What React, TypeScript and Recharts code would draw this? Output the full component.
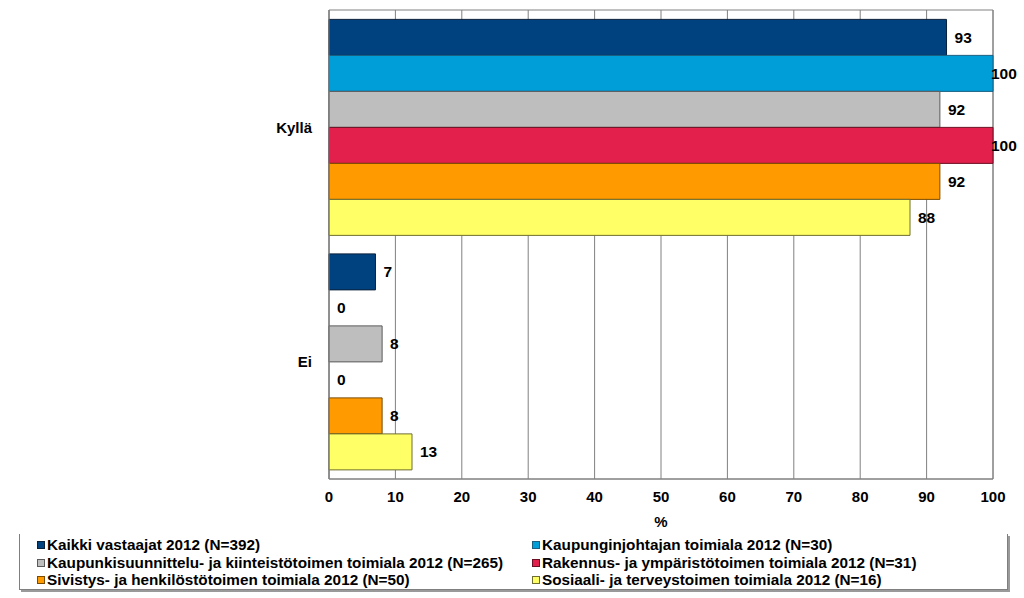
import {
  Bar,
  BarChart,
  CartesianGrid,
  Cell,
  LabelList,
  ReferenceArea,
  XAxis,
  YAxis,
} from "recharts";

const categories = ["Kyllä", "Ei"];

const seriesNames = [
  "Kaikki vastaajat 2012 (N=392)",
  "Kaupunginjohtajan toimiala 2012 (N=30)",
  "Kaupunkisuunnittelu- ja kiinteistötoimen toimiala 2012 (N=265)",
  "Rakennus- ja ympäristötoimen toimiala 2012 (N=31)",
  "Sivistys- ja henkilöstötoimen toimiala 2012 (N=50)",
  "Sosiaali- ja terveystoimen toimiala 2012 (N=16)",
];

// percentages, labels show them rounded
const kaikki = [93, 7];
const kaupunginjohtaja = [100, 0];
const kaupunkisuunnittelu = [92, 8];
const rakennus = [100, 0];
const sivistys = [92, 8];
const sosiaali = [87.5, 12.5];

const xTicks = [0, 10, 20, 30, 40, 50, 60, 70, 80, 90, 100];

// fill + darker outline, in series order
const COLORS = ["#00427F", "#009ED8", "#BEBEBE", "#E31F4C", "#FF9A00", "#FFFF66"];
const STROKES = ["#0A1F3A", "#1B5F80", "#5A5A5A", "#6B1024", "#7A4A00", "#6E6E30"];

const allSeries = [kaikki, kaupunginjohtaja, kaupunkisuunnittelu, rakennus, sivistys, sosiaali];

const data = categories.map((name, i) => {
  const row: Record<string, string | number> = { name };
  allSeries.forEach((s, k) => {
    row[`s${k}`] = s[i];
  });
  return row;
});

const FONT = "'Liberation Sans', Arial, sans-serif";

function ValueLabel(props: any) {
  const { x, y, width, height, value } = props;
  // keep labels inside the picture like Excel does
  const lx = Math.min(x + width + 8, 991);
  return (
    <text
      x={lx}
      y={y + height / 2}
      dy="0.36em"
      textAnchor="start"
      fontFamily={FONT}
      fontSize={15.5}
      fontWeight="bold"
      fill="#000"
    >
      {Math.round(Number(value))}
    </text>
  );
}

function LegendBox() {
  const rows = [
    [0, 1],
    [2, 3],
    [4, 5],
  ];
  return (
    <div
      style={{
        position: "absolute",
        left: 19,
        top: 534,
        width: 987,
        height: 55,
        borderLeft: "1px solid #7f7f7f",
        borderRight: "1px solid #7f7f7f",
        borderBottom: "1px solid #7f7f7f",
        boxShadow: "2px 2px 0 #9a9a9a",
        background: "#fff",
        fontFamily: FONT,
        fontSize: 15.3,
        fontWeight: "bold",
        color: "#000",
      }}
    >
      {rows.map((r, ri) => (
        <div key={ri} style={{ position: "absolute", top: 2 + ri * 17.5, left: 0, width: "100%", height: 18 }}>
          {r.map((k, ci) => (
            <div
              key={k}
              style={{
                position: "absolute",
                left: ci === 0 ? 17 : 512,
                top: 0,
                display: "flex",
                alignItems: "center",
                height: 18,
                whiteSpace: "nowrap",
              }}
            >
              <span
                style={{
                  display: "inline-block",
                  width: 6,
                  height: 6,
                  background: COLORS[k],
                  border: `1px solid ${STROKES[k]}`,
                  marginRight: 2,
                }}
              />
              {seriesNames[k]}
            </div>
          ))}
        </div>
      ))}
    </div>
  );
}

export default function App() {
  return (
    <div
      style={{
        position: "fixed",
        left: 0,
        top: 0,
        width: 1024,
        height: 598,
        background: "#fff",
      }}
    >
      <BarChart
        width={1024}
        height={598}
        data={data}
        layout="vertical"
        margin={{ top: 10, right: 31, bottom: 71, left: 0 }}
        barCategoryGap="4%"
        barGap={0}
      >
        <CartesianGrid vertical horizontal={false} stroke="#808080" />
        <XAxis
          type="number"
          domain={[0, 100]}
          ticks={xTicks}
          interval={0}
          tickLine={false}
          tickSize={0}
          tickMargin={12}
          axisLine={{ stroke: "#808080" }}
          height={48}
          tick={{ fontFamily: FONT, fontSize: 15, fontWeight: "bold", fill: "#000" }}
          label={{
            value: "%",
            position: "insideBottom",
            offset: 0,
            style: { fontFamily: FONT, fontSize: 15, fontWeight: "bold", fill: "#000" },
          }}
        />
        <YAxis
          type="category"
          dataKey="name"
          width={329}
          tickLine={false}
          tickMargin={11}
          axisLine={{ stroke: "#808080" }}
          tick={{ fontFamily: FONT, fontSize: 15, fontWeight: "bold", fill: "#000" }}
        />
        <ReferenceArea x1={0} x2={100} fill="none" stroke="#808080" ifOverflow="extendDomain" />
        {allSeries.map((s, k) => (
          <Bar
            key={k}
            dataKey={`s${k}`}
            name={seriesNames[k]}
            fill={COLORS[k]}
            stroke={STROKES[k]}
            strokeWidth={1}
            minPointSize={(v: number) => (v === 0 ? 0.01 : 0)}
            isAnimationActive={false}
          >
            {s.map((v, i) => (
              <Cell key={i} stroke={v === 0 ? "none" : STROKES[k]} />
            ))}
            <LabelList dataKey={`s${k}`} content={<ValueLabel />} />
          </Bar>
        ))}
      </BarChart>
      <LegendBox />
    </div>
  );
}
